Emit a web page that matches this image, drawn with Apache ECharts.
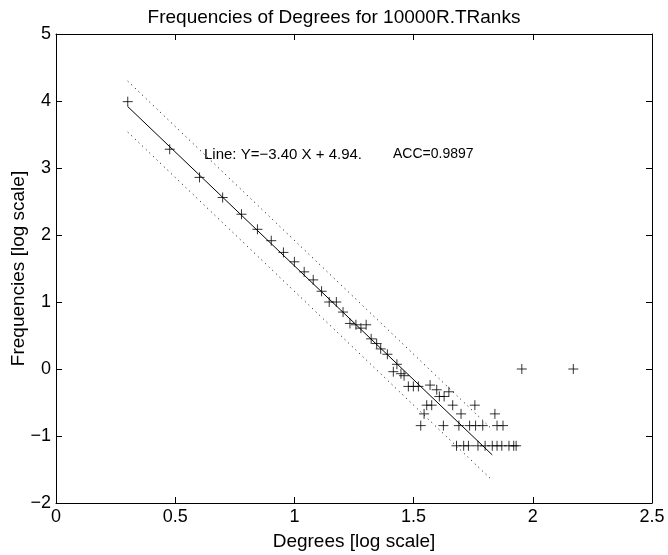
<!DOCTYPE html>
<html>
<head>
<meta charset="utf-8">
<script src="https://cdn.jsdelivr.net/npm/echarts@6/dist/echarts.min.js"></script>
<style>
html,body{margin:0;padding:0;background:#fff;}
#chart{width:668px;height:555px;}
</style>
</head>
<body>
<div id="chart"></div>
<script>
// log10(degree) values
var logDegrees = [0.301,0.477,0.602,0.699,0.778,0.845,0.903,0.954,1.0,1.041,1.079,1.114,1.146,1.176,1.204,1.233,1.258,1.279,1.301,1.322,1.345,1.362,1.39,1.43,1.415,1.447,1.46,
  1.478,1.499,1.52,1.569,1.597,1.608,1.628,1.648,
  1.555,1.576,1.664,1.757,
  1.544,1.699,1.841,
  1.53,1.625,1.69,1.735,1.76,1.79,1.85,1.875,
  1.68,1.71,1.73,1.77,1.80,1.83,1.85,1.87,1.90,1.92,1.93,
  1.954,2.17];
// log10(frequency) values
var logFreqs = [3.99,3.28,2.86,2.56,2.31,2.085,1.915,1.74,1.60,1.45,1.33,1.16,1.0,1.0,0.85,0.68,0.66,0.61,0.66,0.45,0.38,0.30,0.22,0.07,-0.04,-0.07,-0.10,
  -0.26,-0.26,-0.26,-0.24,-0.31,-0.41,-0.41,-0.34,
  -0.54,-0.54,-0.54,-0.54,
  -0.67,-0.67,-0.67,
  -0.845,-0.845,-0.845,-0.845,-0.845,-0.845,-0.845,-0.845,
  -1.146,-1.146,-1.146,-1.146,-1.146,-1.146,-1.146,-1.146,-1.146,-1.146,-1.146,
  0,0];
var fitSlope = -3.40;
var fitIntercept = 4.94;
var fitRange = [0.301, 1.83];
var bandOffset = 0.38;
var xTicks = [0, 0.5, 1, 1.5, 2, 2.5];
var yTicks = [-2, -1, 0, 1, 2, 3, 4, 5];

var pts = logDegrees.map(function(x,i){return [x, logFreqs[i]];});
function fitLine(off){return fitRange.map(function(x){return [x, fitSlope*x + fitIntercept + off];});}

var font = 'Liberation Sans, Arial, Helvetica, sans-serif';
var chart = echarts.init(document.getElementById('chart'), null, {renderer:'canvas'});
var axisCommon = {
  axisLine:{show:true, onZero:false, lineStyle:{color:'#000', width:1}},
  axisTick:{show:true, inside:true, length:6, lineStyle:{color:'#000'}},
  splitLine:{show:false}
};
chart.setOption({
  animation:false,
  backgroundColor:'#fff',
  title:[
    {text:'Frequencies of Degrees for 10000R.TRanks', left:'center', top:3,
     textStyle:{fontFamily:font, fontWeight:'normal', fontSize:19, color:'#000'}},
    {text:'Line: Y=\u22123.40 X + 4.94.', left:199, top:142,
     textStyle:{fontFamily:font, fontWeight:'normal', fontSize:15, color:'#000'}},
    {text:'ACC=0.9897', left:388, top:142,
     textStyle:{fontFamily:font, fontWeight:'normal', fontSize:14, color:'#000'}}
  ],
  grid:{left:56, right:16, top:34, bottom:52, containLabel:false, outerBoundsMode:'none'},
  xAxis:[
    Object.assign({type:'value', min:xTicks[0], max:xTicks[xTicks.length-1], interval:0.5, position:'bottom',
      name:'Degrees [log scale]', nameLocation:'middle', nameGap:29,
      nameTextStyle:{fontFamily:font, fontSize:19, color:'#000'},
      axisLabel:{fontFamily:font, fontSize:18, color:'#000', margin:5}}, axisCommon),
    Object.assign({type:'value', min:xTicks[0], max:xTicks[xTicks.length-1], interval:0.5, position:'top',
      axisLabel:{show:false}}, axisCommon)
  ],
  yAxis:[
    Object.assign({type:'value', min:yTicks[0], max:yTicks[yTicks.length-1], interval:1, position:'left',
      name:'Frequencies [log scale]', nameLocation:'middle', nameGap:28, nameMoveOverlap:false,
      nameTextStyle:{fontFamily:font, fontSize:19, color:'#000'},
      axisLabel:{fontFamily:font, fontSize:18, color:'#000', margin:5,
        formatter:function(v){return String(v).replace('-', '\u2212');}}}, axisCommon),
    Object.assign({type:'value', min:yTicks[0], max:yTicks[yTicks.length-1], interval:1, position:'right',
      axisLabel:{show:false}}, axisCommon)
  ],
  series:[
    {type:'line', data:fitLine(0), symbol:'none', lineStyle:{color:'#000', width:1}, z:3},
    {type:'line', data:fitLine(bandOffset), symbol:'none', lineStyle:{color:'#000', width:1, type:[1,4]}, z:3},
    {type:'line', data:fitLine(-bandOffset), symbol:'none', lineStyle:{color:'#000', width:1, type:[1,4]}, z:3},
    {type:'scatter', data:pts, symbol:'path://M0,5L10,5M5,0L5,10', symbolSize:10,
     itemStyle:{color:'none', borderColor:'#000', borderWidth:1}, z:4}
  ]
});
</script>
</body>
</html>
